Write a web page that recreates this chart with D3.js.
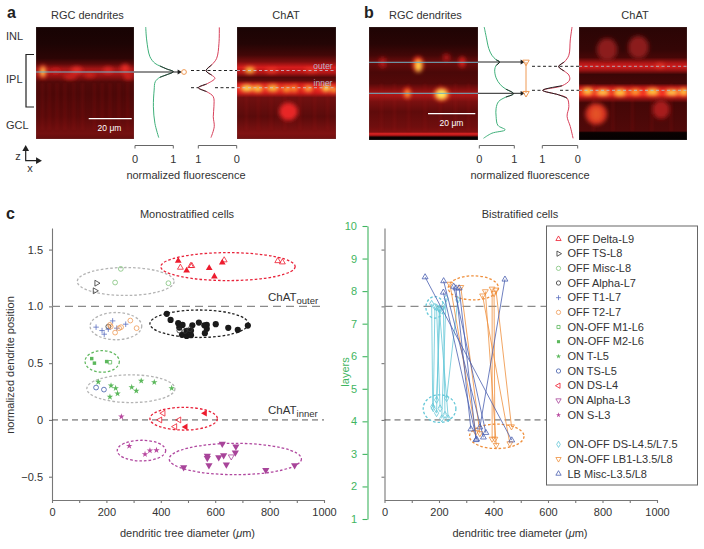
<!DOCTYPE html>
<html><head><meta charset="utf-8">
<script src="https://cdn.jsdelivr.net/npm/d3@7/dist/d3.min.js"></script>
<style>html,body{margin:0;padding:0;background:#fff}svg{display:block}text{font-family:"Liberation Sans",Arial,sans-serif;fill:#333}</style>
</head><body><svg id="c" width="704" height="549"></svg>
<script>
// ---------- panel c, monostratified: [diameter, normalized position]
const offDeltaOpen=[[472,1.342],[510,1.357],[514,1.357],[633,1.407],[830,1.40],[847,1.389]];
const offDeltaFilled=[[464,1.40],[495,1.315],[578,1.337],[626,1.386],[597,1.263]];
const offTS=[[164,1.204],[158,1.137]];
const offMisc=[[253,1.33],[232,1.21],[428,1.204]];
const offAlphaOpen=[[207,.822],[468,.787],[489,.784],[507,.799]];
const offAlphaFilled=[[422,.934],[436,.881],[464,.852],[480,.837],[468,.813],[478,.749],[495,.784],[495,.74],[511,.787],[511,.746],[516,.834],[540,.857],[560,.834],[569,.837],[569,.802],[562,.764],[602,.843],[648,.811],[683,.793],[720,.831]];
const offT1=[[162,.817],[184,.787],[192,.755],[207,.799],[223,.872],[271,.843],[238,.808]];
const offT2=[[213,.837],[216,.822],[232,.769],[247,.808],[254,.817],[288,.875],[311,.808]];
const onOffM1=[[213,.508]];
const onOffM2=[[146,.54],[156,.50],[201,.514]];
const onT=[[170,.335],[217,.302],[234,.279],[241,.232],[213,.203],[293,.288],[310,.256],[328,.344],[376,.332],[440,.279]];
const onTS=[[162,.285],[191,.267]];
const onDSOpen=[[409,.059],[397,0],[467,0],[452,-.059]];
const onDSFilled=[[562,.059],[491,-.062]];
const onAlphaFilled=[[626,-.211],[676,-.235],[674,-.288],[631,-.311],[613,-.329],[571,-.317],[571,-.335],[577,-.399],[641,-.394],[484,-.417],[786,-.441],[892,-.399]];
const onAlphaOpen=[[659,-.323]];
const onS=[[255,.029],[284,-.229],[342,-.302],[360,-.27],[384,-.267]];
// grouping ellipses: [cx, cy, rx, ry, colour key]
const monoEllipses=[[647,1.35,247,.123,"red"],[271,1.219,178,.123,"grey"],[235,.826,95,.12,"grey"],[541,.847,181,.121,"black"],[184.5,.515,63,.095,"green"],[290,.275,162,.122,"grey"],[484,.011,124,.1,"red"],[329,-.27,89,.091,"purple"],[674,-.344,243,.138,"purple"]];
// ---------- panel c, bistratified: [upper diameter, upper layer, lower diameter, lower layer]
const dsPairs=[[173,7.61,177,4.45],[185,7.52,179,4.40],[201,7.44,191,4.25],[204,7.42,191,4.66],[191,7.50,204,4.40],[226,7.78,210,4.09],[216,7.54,222,4.20],[269,7.73,228,4.71],[201,7.47,234,4.09]];
const lb1Pairs=[[240,8.22,335,3.67],[280,8.12,350,3.63],[360,7.86,460,3.32],[370,7.99,410,3.27],[395,8.07,395,3.46],[402,7.93,405,3.46],[409,8.04,466,3.84]];
const lbMiscPairs=[[149,8.43,467,3.42],[442,8.36,350,3.82],[217,8.31,363,3.51],[216,7.96,338,3.45],[254,8.14,372,3.65],[274,8.09,336,3.43],[262,8.09,317,3.76]];
const biEllipses=[[185,7.5,33,.33,"cyan"],[202,4.39,60,.425,"cyan"],[326,8.10,92,.37,"orange"],[412,3.54,100,.375,"orange"]];
const legendLabels=["OFF Delta-L9","OFF TS-L8","OFF Misc-L8","OFF Alpha-L7","OFF T1-L7","OFF T2-L7","ON-OFF M1-L6","ON-OFF M2-L6","ON T-L5","ON TS-L5","ON DS-L4","ON Alpha-L3","ON S-L3","","ON-OFF DS-L4.5/L7.5","ON-OFF LB1-L3.5/L8","LB Misc-L3.5/L8"];
const xTicks=[0,100,200,300,400,500,600,700,800,900,1000];
const positionTicks=[-.5,0,.5,1,1.5];
const layerTicks=[1,2,3,4,5,6,7,8,9,10];
// ---------- fluorescence profiles: [normalized fluorescence, depth fraction]
const aGreen=[[.28,0],[.305,.116],[.39,.265],[.52,.324],[.65,.348],[.83,.375],[1,.399],[.83,.426],[.65,.449],[.53,.488],[.5,.563],[.48,.712],[.52,.86],[.62,.988]];
const aRed=[[.453,.003],[.462,.146],[.522,.28],[.653,.339],[.80,.39],[.653,.429],[.567,.458],[.783,.509],[1,.542],[.783,.577],[.61,.622],[.593,.712],[.61,.801],[.585,.89],[.671,.988]];
const bGreen=[[.14,0],[.20,.09],[.27,.19],[.36,.25],[.48,.29],[.58,.31],[.48,.34],[.44,.38],[.48,.45],[.60,.51],[.76,.55],[.98,.59],[.76,.62],[.55,.66],[.48,.72],[.48,.79],[.53,.87],[.74,.91],[.36,.94],[.12,.985]];
const bRed=[[.16,0],[.21,.115],[.25,.25],[.38,.31],[.54,.35],[.38,.39],[.25,.425],[.23,.47],[.44,.52],[.99,.56],[.54,.60],[.30,.63],[.25,.705],[.30,.79],[.21,.88],[.13,.985]];
// ---------- micrograph panels: gradient stops [v, colour], blobs [u, v, ru, rv, colour, opacity]
const imgALeft={stops:[[0,"#170303"],[.15,"#1d0404"],[.28,"#2c0505"],[.33,"#5a0909"],[.37,"#a01414"],[.41,"#b01818"],[.45,"#861010"],[.49,"#520909"],[.6,"#4c0808"],[.8,"#5a0a0a"],[.95,"#741010"],[1,"#640d0d"]],
 blobs:[[.07,.40,.035,.06,"#ff3020",1],[.07,.40,.016,.04,"#fff060",1],[.2,.39,.05,.025,"#d82020",.7],[.415,.385,.06,.03,"#f03028",.9],[.91,.37,.045,.04,"#f03028",.9],[.35,.445,.07,.025,"#e02820",.8],[.55,.43,.06,.025,"#e02820",.7],[.735,.385,.05,.03,"#f03028",.7],[.94,.445,.045,.03,"#e02820",.8]],
 streaks:[.05,.12,.2,.28,.37,.46,.58,.66,.74,.83,.92]};
const imgARight={stops:[[0,"#1a0404"],[.15,"#240505"],[.25,"#420707"],[.31,"#7a0e0e"],[.36,"#d81c1c"],[.41,"#b01616"],[.45,"#500909"],[.48,"#640b0b"],[.51,"#d01c1c"],[.55,"#f43020"],[.59,"#d01c1c"],[.63,"#701010"],[.8,"#5a0b0b"],[.95,"#801212"],[1,"#701010"]],
 blobs:[[.13,.385,.05,.025,"#ffd040",1],[.35,.39,.06,.02,"#ff5030",.7],[.75,.385,.07,.02,"#ff5030",.6],[.1,.545,.06,.03,"#ffe050",1],[.21,.55,.05,.03,"#ffd040",1],[.36,.545,.06,.03,"#ffd040",.9],[.5,.555,.04,.025,"#ffb030",.9],[.58,.55,.03,.03,"#ffb030",.8],[.72,.55,.04,.025,"#ffc040",.9],[.9,.545,.04,.03,"#ffe050",1],[.98,.56,.03,.02,"#ffd040",1],[.52,.755,.095,.08,"#e82828",1]],
 streaks:[.08,.2,.33,.47,.62,.77,.9]};
const imgBLeft={stops:[[0,"#1f0404"],[.15,"#280505"],[.25,"#420707"],[.31,"#6a0c0c"],[.4,"#4a0808"],[.5,"#540909"],[.56,"#8a1010"],[.6,"#b01818"],[.66,"#7a1010"],[.75,"#5f0b0b"],[.88,"#6f0e0e"],[.93,"#801010"],[.945,"#e02424"],[.96,"#a01414"],[.975,"#0a0202"],[1,"#050101"]],
 blobs:[[.125,.315,.035,.05,"#d01c1c",.7],[.45,.33,.05,.07,"#ff3020",1],[.455,.345,.025,.05,"#ffe050",1],[.71,.27,.035,.035,"#d01c1c",.7],[.855,.31,.03,.05,"#e82420",.9],[.35,.585,.035,.05,"#ff3020",1],[.355,.59,.015,.03,"#ffc040",1],[.665,.595,.07,.06,"#ff4020",1],[.665,.595,.05,.04,"#fff060",1]],
 streaks:[.1,.22,.35,.5,.64,.78,.9]};
const imgBRight={stops:[[0,"#2a0505"],[.2,"#340606"],[.27,"#460707"],[.32,"#b01616"],[.35,"#d01c1c"],[.38,"#a01414"],[.42,"#3a0606"],[.5,"#440707"],[.53,"#b01515"],[.56,"#f02a20"],[.6,"#f02a20"],[.63,"#a01414"],[.67,"#440707"],[.92,"#500909"],[.935,"#0a0202"],[1,"#050101"]],
 blobs:[[.26,.2,.095,.1,"#8c1a1a",1],[.55,.18,.095,.1,"#8c1a1a",1],[.75,.34,.04,.02,"#ff5030",.6],[.08,.57,.05,.03,"#ffd040",1],[.22,.58,.06,.025,"#ffe050",1],[.38,.58,.06,.03,"#ffd040",1],[.52,.575,.05,.025,"#ffb030",1],[.68,.575,.06,.03,"#ffd040",1],[.86,.58,.06,.025,"#ffe050",1],[.97,.575,.04,.03,"#ffd040",1],[.16,.77,.1,.095,"#d83020",1],[.16,.77,.05,.06,"#e86028",.7],[.76,.73,.08,.085,"#a81c1c",1]],
 streaks:[.12,.3,.48,.66,.84]};

const svg=d3.select("#c");
const defs=svg.append("defs");
defs.append("filter").attr("id","blur").attr("x","-60%").attr("y","-60%").attr("width","220%").attr("height","220%").append("feGaussianBlur").attr("stdDeviation",1.9);
defs.append("filter").attr("id","soft").attr("x","-100%").attr("width","300%").append("feGaussianBlur").attr("stdDeviation",1);
const FS=11, DARK="#333", AXIS="#777";
const palette={red:"#e8233a",grey:"#b4b4b4",black:"#222",green:"#62b860",purple:"#b0479f",cyan:"#66c8d8",orange:"#ef8f3c"};

function txt(x,y,s,o={}){const t=svg.append("text").attr("x",x).attr("y",y).attr("font-size",o.size||FS).attr("text-anchor",o.anchor||"start").text(s);
 if(o.fill)t.style("fill",o.fill);if(o.weight)t.attr("font-weight",o.weight);if(o.rotate!=null)t.attr("transform",`rotate(${o.rotate} ${x} ${y})`);return t;}
function sym(type,rot,size){return (g,[x,y],o)=>g.append("path").attr("d",d3.symbol().type(type).size((size||15)*(o.k||1))()).attr("transform",`translate(${x},${y}) rotate(${rot||0})`).attr("fill",o.fill||"none").attr("stroke",o.stroke||"none").attr("stroke-width",o.sw||.8);}
const plus={draw(c,s){const r=Math.sqrt(s)/2;c.moveTo(-r,0);c.lineTo(r,0);c.moveTo(0,-r);c.lineTo(0,r);}};
const triUp=sym(d3.symbolTriangle,0),triDown=sym(d3.symbolTriangle,180),triLeft=sym(d3.symbolTriangle,270),triRight=sym(d3.symbolTriangle,90),
 circ=sym(d3.symbolCircle,0,18),bigDot=sym(d3.symbolCircle,0,30),square=sym(d3.symbolSquare,0,12),star=sym(d3.symbolStar,0,10),cross=sym(plus,0,30),diamond=sym(d3.symbolDiamond,0,14);

// ---------- micrographs
function micrograph(id,x,y,w,h,im){
 const u=d3.scaleLinear([0,1],[x,x+w]),v=d3.scaleLinear([0,1],[y,y+h]);
 const lg=defs.append("linearGradient").attr("id",id).attr("x1",0).attr("x2",0).attr("y1",0).attr("y2",1);
 im.stops.forEach(s=>lg.append("stop").attr("offset",s[0]).attr("stop-color",s[1]));
 defs.append("clipPath").attr("id",id+"c").append("rect").attr("x",x).attr("y",y).attr("width",w).attr("height",h);
 const g=svg.append("g").attr("clip-path",`url(#${id}c)`);
 g.append("rect").attr("x",x).attr("y",y).attr("width",w).attr("height",h).attr("fill",`url(#${id})`);
 g.selectAll("rect.s").data(im.streaks).join("rect").attr("class","s").attr("x",d=>u(d)).attr("y",v(.5)).attr("width",3).attr("height",h*.42).attr("fill","#a01414").attr("opacity",.16).attr("filter","url(#soft)");
 g.append("g").attr("filter","url(#blur)").selectAll("ellipse").data(im.blobs).join("ellipse")
  .attr("cx",d=>u(d[0])).attr("cy",d=>v(d[1])).attr("rx",d=>d[2]*w).attr("ry",d=>d[3]*h).attr("fill",d=>d[4]).attr("opacity",d=>d[5]);
 g.append("rect").attr("x",x).attr("y",y).attr("width",w).attr("height",h).attr("fill","none").attr("stroke","#777").attr("stroke-width",.6).attr("opacity",.5);
}
micrograph("ia1",36,27,98,112,imgALeft);
micrograph("ia2",237,27,99,112,imgARight);
micrograph("ib1",369,27,109,113,imgBLeft);
micrograph("ib2",579,27,108,113,imgBRight);

// ---------- panel titles
txt(7,18,"a",{size:16,weight:"bold",fill:"#222"});txt(364,18,"b",{size:16,weight:"bold",fill:"#222"});txt(6,219,"c",{size:16,weight:"bold",fill:"#222"});
txt(51,19,"RGC dendrites");txt(286,19,"ChAT",{anchor:"middle"});txt(389,19,"RGC dendrites");txt(635,19,"ChAT",{anchor:"middle"});
txt(6,40,"INL");txt(6,83,"IPL");txt(6,129,"GCL");
svg.append("path").attr("d",d3.line()([[34,54.5],[26,54.5],[26,107],[34,107]])).attr("fill","none").attr("stroke","#222").attr("stroke-width",1.2);
// z/x arrows
svg.append("path").attr("d",d3.line()([[25.7,150],[25.7,160.7],[37,160.7]])).attr("fill","none").attr("stroke","#222").attr("stroke-width",1.2);
sym(d3.symbolTriangle,0,20)(svg,[25.7,149],{fill:"#222"});sym(d3.symbolTriangle,90,20)(svg,[38,160.7],{fill:"#222"});
txt(18,160,"z",{anchor:"middle"});txt(30,172,"x",{anchor:"middle"});

// ---------- profiles
function profile(data,x0,x1,y0,y1,color,peaks){
 const fx=d3.scaleLinear([0,1],[x0,x1]),dy=d3.scaleLinear([0,1],[y0,y1]);
 const ln=d3.line().x(d=>fx(d[0])).y(d=>dy(d[1])).curve(d3.curveCatmullRom.alpha(.5));
 svg.append("path").attr("d",ln(data)).attr("fill","none").attr("stroke",color).attr("stroke-width",1);
 peaks.forEach(p=>svg.append("path").attr("d",ln(data.slice(p[0],p[1]+1))).attr("fill","none").attr("stroke","#222").attr("stroke-width",1));
}
profile(aGreen,135,173.3,27,139,"#3fb07a",[[4,8]]);
profile(aRed,236.7,198.3,27,139,"#d8405a",[[3,5],[7,9]]);
profile(bGreen,479.3,514.3,27,140,"#3fb07a",[[4,6],[10,12]]);
profile(bRed,577.7,542.3,27,140,"#d8405a",[[3,5],[8,11]]);
function bracket(x0,x1,l0,l1){
 svg.append("path").attr("d",d3.line()([[x0,148.5],[x0,145.5],[x1,145.5],[x1,148.5]])).attr("fill","none").attr("stroke","#666").attr("stroke-width",1);
 txt(x0,163,l0,{anchor:"middle"});txt(x1,163,l1,{anchor:"middle"});
}
bracket(135,173.3,"0","1");bracket(198.3,236.7,"1","0");bracket(479.3,514.3,"0","1");bracket(542.3,577.7,"1","0");
txt(186,179,"normalized fluorescence",{anchor:"middle"});txt(530,179,"normalized fluorescence",{anchor:"middle"});
function hline(x0,x1,y,col,dash,w){svg.append("line").attr("x1",x0).attr("x2",x1).attr("y1",y).attr("y2",y).attr("stroke",col).attr("stroke-width",w||1).attr("stroke-dasharray",dash||null);}
// panel a guides
hline(36,134,72,"#6db4c8");hline(134,178,72,"#222");sym(d3.symbolTriangle,90,10)(svg,[179,72],{fill:"#222"});
circ(svg,[184,72],{stroke:"#ef9a55",sw:1});
hline(191,237,70.5,"#222","3 2.5");hline(191,198,87.7,"#222","3 2.5");hline(215,237,87.7,"#222","3 2.5");
hline(237,336,70.5,"#c8c8d8","3 2.5",.8);hline(237,336,87.7,"#c8c8d8","3 2.5",.8);
txt(323,69,"outer",{anchor:"middle",size:8.5,fill:"#b4b4cc"});txt(323,86,"inner",{anchor:"middle",size:8.5,fill:"#b4b4cc"});
hline(88.7,131.7,118.7,"#fff","",1.3);txt(109.5,131,"20 μm",{anchor:"middle",size:8.5,fill:"#fff"});
// panel b guides
hline(369,478,62.3,"#6db4c8");hline(369,478,93.3,"#6db4c8");hline(478,521,62,"#222");hline(478,521,93.3,"#222");
sym(d3.symbolTriangle,90,10)(svg,[522,62],{fill:"#222"});sym(d3.symbolTriangle,90,10)(svg,[522,93.3],{fill:"#222"});
svg.append("line").attr("x1",526).attr("x2",526).attr("y1",62).attr("y2",93).attr("stroke","#ef9a55").attr("stroke-width",1);
sym(d3.symbolTriangle,180,18)(svg,[526,62],{stroke:"#ef9a55",sw:1});sym(d3.symbolTriangle,180,18)(svg,[526,93.3],{stroke:"#ef9a55",sw:1});
hline(532,579,66.3,"#222","3 2.5");hline(532,543,90.3,"#222","3 2.5");hline(560,579,90.3,"#222","3 2.5");
hline(579,687,66.3,"#a8ccd8","3 2.5",.8);hline(579,687,90.3,"#a8ccd8","3 2.5",.8);
hline(428,475.3,113.7,"#fff","",1.3);txt(451.5,126,"20 μm",{anchor:"middle",size:8.5,fill:"#fff"});

// ---------- panel c scales
const xL=d3.scaleLinear([0,1000],[52,324]),xR=d3.scaleLinear([0,1000],[384.5,657]);
const yP=d3.scaleLinear([-.705,1.69],[500,228]),yLayer=d3.scaleLinear([1,10],[519,226]);
const rightEnd=547;
function styleAxis(g,col,textCol){g.selectAll(".domain,line").attr("stroke",col).attr("stroke-width",1.1);g.selectAll("text").attr("font-size",FS).attr("font-family",null).style("fill",textCol||DARK);}
const fmtX=d=>d%200===0?d:"";
for(const x of [xL,xR]){
 svg.append("g").attr("transform","translate(0,500)").call(d3.axisBottom(x).tickValues(xTicks).tickFormat(fmtX).tickSize(3).tickSizeOuter(0).tickPadding(5.5)).call(styleAxis,AXIS);
}
svg.append("g").attr("transform","translate(52,0)").call(d3.axisLeft(yP).tickValues(positionTicks).tickFormat(d=>d===0?"0":d3.format(".1f")(d)).tickSize(3).tickSizeOuter(0).tickPadding(6)).call(styleAxis,AXIS);
svg.append("g").attr("transform","translate(384.5,0)").call(d3.axisLeft(yP).tickValues(positionTicks).tickFormat("").tickSize(3).tickSizeOuter(0)).call(styleAxis,AXIS);
svg.append("g").attr("transform","translate(367.5,0)").call(d3.axisLeft(yLayer).tickValues(layerTicks).tickSize(5).tickSizeOuter(0).tickPadding(5.5)).call(styleAxis,"#3fb560","#3fb560");

// guide lines
hline(xL(0),xL(1000),yP(1),"#8a8a8a","8 5",1.1);hline(xL(0),xL(1000),yP(0),"#444","6 4",.9);
hline(xR(0),rightEnd,yP(1),"#8a8a8a","8 5",1.1);hline(xR(0),rightEnd,yP(0),"#444","6 4",.9);
// labels
txt(187,218,"Monostratified cells",{anchor:"middle"});txt(520,218,"Bistratified cells",{anchor:"middle"});
txt(14,365,"normalized dendrite position",{anchor:"middle",rotate:-90});
txt(349,372,"layers",{anchor:"middle",rotate:-90,fill:"#3fb560"});
for(const x of [187.5,520]){const t=txt(x,537,"dendritic tree diameter (",{anchor:"middle"});t.append("tspan").attr("font-style","italic").text("μ");t.append("tspan").text("m)");}
function chat(y,sub){const t=txt(268,y,"ChAT",{size:11.5});t.append("tspan").attr("dy",3).attr("font-size",9.5).text(sub);}
chat(301,"outer");chat(413.5,"inner");

// ellipses
function ellipses(list,x,y){
 svg.append("g").selectAll("ellipse").data(list).join("ellipse")
 .attr("cx",d=>x(d[0])).attr("cy",d=>y(d[1])).attr("rx",d=>x(d[2])-x(0)).attr("ry",d=>y(0)-y(d[3]))
 .attr("fill","none").attr("stroke",d=>palette[d[4]]).attr("stroke-width",1.3).attr("stroke-dasharray","2.6 2");
}
ellipses(monoEllipses,xL,yP);
const plot=(data,shape,o)=>data.forEach(d=>shape(svg,[xL(d[0]),yP(d[1])],o));
const col={orange:"#ef9a55",blue:"#5a6fbf",navy:"#3f5aa8",dark:"#333",lg:"#7fc27a",gf:"#5cb85c",p:"#a8449a",p2:"#b8489f",red:"#ed1c2e"};
plot(offDeltaOpen,triUp,{stroke:col.red});plot(offDeltaFilled,triUp,{fill:col.red,k:1.3});
plot(offTS,triRight,{stroke:col.dark});plot(offMisc,circ,{stroke:col.lg});
plot(offAlphaFilled,bigDot,{fill:"#1a1a1a"});plot(offAlphaOpen,circ,{stroke:col.dark});
plot(offT1,cross,{stroke:col.blue});plot(offT2,circ,{stroke:col.orange});
plot(onOffM1,square,{stroke:col.gf});plot(onOffM2,square,{fill:col.gf});
plot(onT,star,{fill:col.gf,k:1.3});plot(onTS,circ,{stroke:col.navy});
plot(onDSOpen,triLeft,{stroke:col.red});plot(onDSFilled,triLeft,{fill:col.red,k:1.3});
plot(onAlphaFilled,triDown,{fill:col.p,k:1.5});plot(onAlphaOpen,triDown,{stroke:col.p});plot(onS,star,{fill:col.p2,k:1.3});

// bistratified
ellipses(biEllipses,xR,yLayer);
function pairs(data,color,shapeU,shapeL){
 svg.append("g").selectAll("line").data(data).join("line").attr("x1",d=>xR(d[0])).attr("y1",d=>yLayer(d[1])).attr("x2",d=>xR(d[2])).attr("y2",d=>yLayer(d[3])).attr("stroke",color).attr("stroke-width",.8);
 data.forEach(d=>{shapeU(svg,[xR(d[0]),yLayer(d[1])],{stroke:color});shapeL(svg,[xR(d[2]),yLayer(d[3])],{stroke:color});});
}
pairs(dsPairs,"#66c8d8",diamond,diamond);
pairs(lb1Pairs,"#ef8f3c",triDown,triDown);
pairs(lbMiscPairs,"#4a5fb0",triUp,triUp);

// legend
svg.append("rect").attr("x",546.5).attr("y",226).attr("width",151).attr("height",259).attr("fill","#fff").attr("stroke","#666").attr("stroke-width",1);
const legendShapes=[[triUp,{stroke:col.red}],[triRight,{stroke:col.dark}],[circ,{stroke:col.lg}],[circ,{stroke:col.dark}],[cross,{stroke:col.blue}],[circ,{stroke:col.orange}],[square,{stroke:col.gf}],[square,{fill:col.gf}],[star,{fill:col.gf}],[circ,{stroke:col.navy}],[triLeft,{stroke:col.red}],[triDown,{stroke:col.p}],[star,{fill:col.p2}],null,[diamond,{stroke:"#66c8d8"}],[triDown,{stroke:"#ef8f3c"}],[triUp,{stroke:"#4a5fb0"}]];
const yLeg=d3.scaleLinear([0,16],[239,473.7]);
legendLabels.forEach((s,i)=>{if(!s)return;const sh=legendShapes[i];sh[0](svg,[558.5,yLeg(i)],{...sh[1],k:.8});txt(567.5,yLeg(i)+3.8,s);});
</script></body></html>
